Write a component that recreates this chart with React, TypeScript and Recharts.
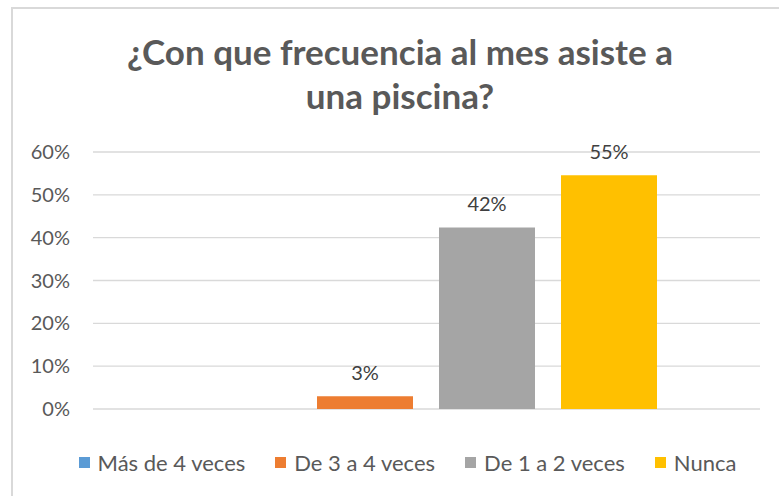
import { BarChart, Bar, XAxis, YAxis, CartesianGrid, LabelList } from "recharts";

const title = ["¿Con que frecuencia al mes asiste a", "una piscina?"];
const category = "Frecuencia";
const seriesNames = ["Más de 4 veces", "De 3 a 4 veces", "De 1 a 2 veces", "Nunca"];
const seriesValues = [0, 3.0, 42.4, 54.6];
const seriesColors = ["#5B9BD5", "#ED7D31", "#A5A5A5", "#FFC000"];
const yTicks = [0, 10, 20, 30, 40, 50, 60];

const row: Record<string, string | number> = { name: category };
seriesNames.forEach((n, i) => { row[n] = seriesValues[i]; });
const data = [row];

const FONT = "Lato, 'Open Sans', sans-serif";

const pctLabel = (v: unknown) => {
  const n = Number(v);
  return n > 0 ? `${Math.round(n)}%` : "";
};

export default function App() {
  return (
    <div style={{ position: "absolute", left: 0, top: 0, width: 779, height: 496, background: "#fff", overflow: "hidden", fontFamily: FONT }}>
      <div style={{ position: "absolute", left: 11, top: 7, width: 800, height: 520, borderLeft: "2px solid #D9D9D9", borderTop: "2px solid #D9D9D9" }} />
      <div style={{ position: "absolute", left: 0, top: 29, width: 800, textAlign: "center", color: "#595959", fontSize: 35, fontWeight: 700, lineHeight: "44px" }}>
        {title.map(t => <div key={t}>{t}</div>)}
      </div>
      <BarChart width={779} height={496} data={data} margin={{ top: 152, right: 19, left: 33, bottom: 87 }} barCategoryGap={102} barGap={26}>
        <CartesianGrid vertical={false} stroke="#D9D9D9" strokeWidth={1.3} />
        <XAxis dataKey="name" tick={false} axisLine={{ stroke: "#D9D9D9", strokeWidth: 1.3 }} tickLine={false} height={0} />
        <YAxis width={60} domain={[0, 60]} ticks={yTicks} tickFormatter={v => `${v}%`} axisLine={false} tickLine={false} tickSize={0} tickMargin={23}
          tick={{ fill: "#595959", fontSize: 20, fontFamily: FONT }} />
        {seriesNames.map((n, i) => (
          <Bar key={n} dataKey={n} fill={seriesColors[i]} isAnimationActive={false}>
            <LabelList dataKey={n} position="top" offset={16} formatter={pctLabel} style={{ fill: "#404040", fontSize: 20, fontFamily: FONT }} />
          </Bar>
        ))}
      </BarChart>
      <div style={{ position: "absolute", left: 0, top: 449, width: 815, display: "flex", justifyContent: "center", gap: 30, color: "#595959", fontSize: 22 }}>
        {seriesNames.map((n, i) => (
          <div key={n} style={{ display: "flex", alignItems: "center", gap: 8 }}>
            <span style={{ width: 11, height: 11, background: seriesColors[i], display: "inline-block" }} />
            <span>{n}</span>
          </div>
        ))}
      </div>
    </div>
  );
}
